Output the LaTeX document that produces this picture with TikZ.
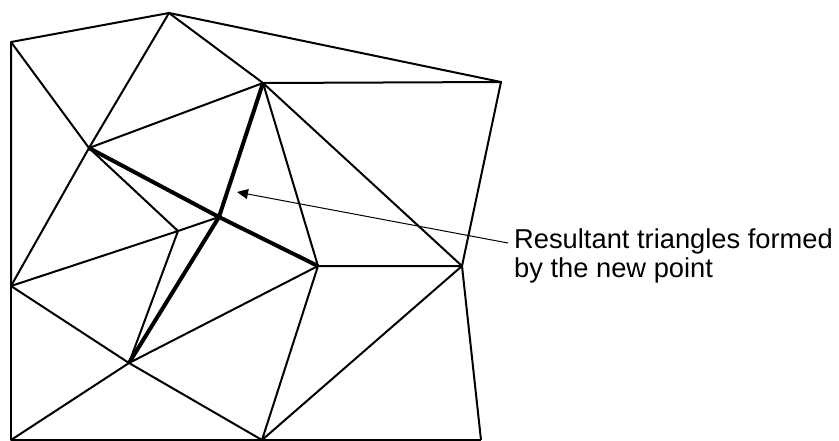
\documentclass[tikz,border=0pt]{standalone}
\usepackage{fontspec}
\setmainfont{Liberation Sans}
\usetikzlibrary{arrows.meta}
\begin{document}
\begin{tikzpicture}[x=1pt, y=-1pt, line join=round,
    edge/.style={draw, line width=2pt},
    newedge/.style={draw, line width=4pt},
    pointer/.style={draw, line width=1pt, -{Triangle[length=11pt, width=10pt]}},
    every node/.style={font=\fontsize{27.3}{28.5}\selectfont}]
    \useasboundingbox (0,0) rectangle (839,440);
    % vertices of the mesh
    \coordinate (a) at (11,42);
    \coordinate (b) at (169,13);
    \coordinate (e) at (501,82);
    \coordinate (c) at (263,83);
    \coordinate (d) at (89,148);
    \coordinate (p) at (219,217);
    \coordinate (f) at (178,231);
    \coordinate (g) at (11,286);
    \coordinate (h) at (129,363);
    \coordinate (j) at (318,266);
    \coordinate (k) at (462,266);
    \coordinate (bl) at (11,440);
    \coordinate (i) at (262,440);
    \coordinate (l) at (481,440);
    % old triangles
    \draw[edge] (g) -- (a) -- (b) -- (e) -- (k) -- (l);
    \draw[edge] (g) -- (bl) -- (i) -- (l);
    \draw[edge] (a) -- (d) -- (b) -- (c) -- (e);
    \draw[edge] (d) -- (c) -- (j) -- (k) -- (c);
    \draw[edge] (d) -- (g) -- (f) -- (d);
    \draw[edge] (f) -- (h) (f) -- (p);
    \draw[edge] (g) -- (h) -- (bl) (h) -- (i) -- (j) -- (h) (k) -- (i);
    % new point
    \draw[newedge] (d) -- (p) -- (c) (j) -- (p) -- (h);
    % label
    \coordinate (tip) at (237,192);
    \node[anchor=north west, inner sep=0pt, align=left] (label) at (514,229)
        {Resultant triangles formed\\by the new point};
    \draw[pointer] ([xshift=-6pt, yshift=-14pt]label.north west) -- (tip);
\end{tikzpicture}
\end{document}
